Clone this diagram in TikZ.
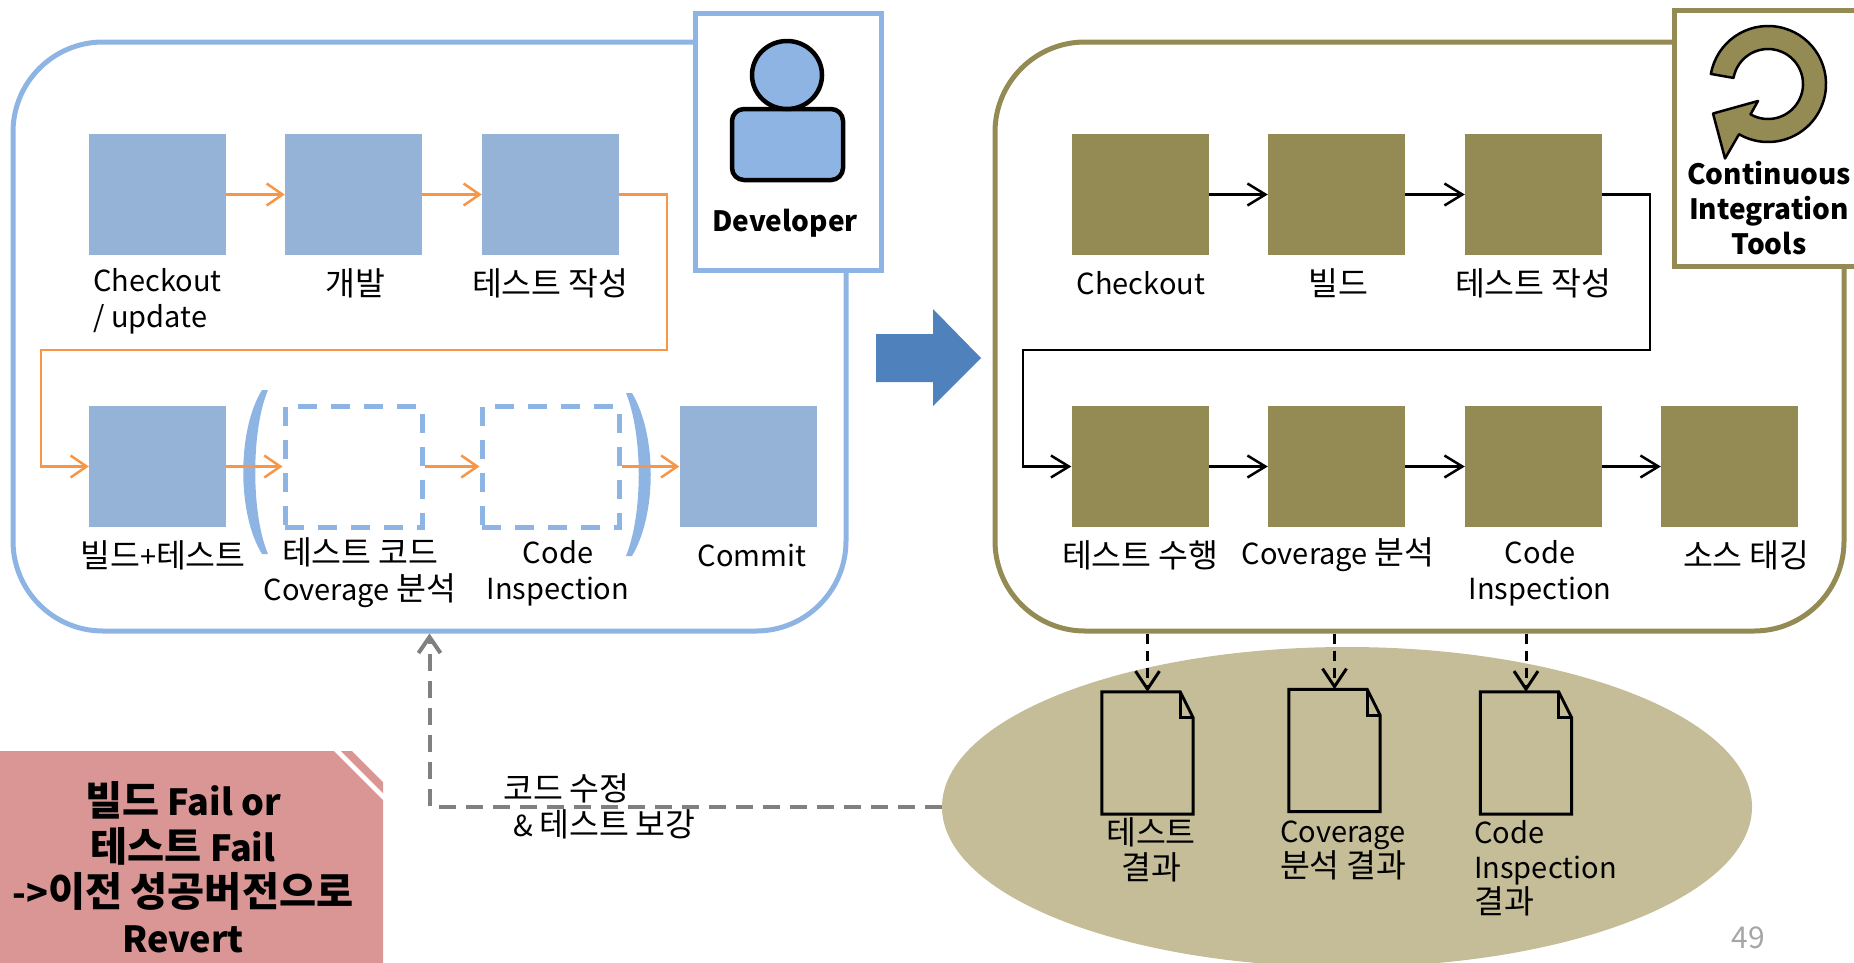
\documentclass[tikz,border=0pt]{standalone}
\usepackage{fontspec}
\setmainfont{Noto Sans CJK KR}
\newfontfamily\krfont[Scale=1.12]{Noto Sans CJK KR}
\newXeTeXintercharclass\krclass
\newcount\kc
\kc="AC00
\loop \XeTeXcharclass\kc=\krclass \advance\kc by 1 \ifnum\kc<"D7A4 \repeat
\XeTeXinterchartoks 0 \krclass = {\begingroup\krfont}
\XeTeXinterchartoks 4095 \krclass = {\begingroup\krfont}
\XeTeXinterchartoks \krclass 0 = {\endgroup}
\XeTeXinterchartoks \krclass 4095 = {\endgroup}
\XeTeXinterchartokenstate=1
\usetikzlibrary{arrows.meta,shapes.geometric,calc}
\definecolor{lblue}{HTML}{8EB4E3}
\definecolor{boxblue}{HTML}{95B3D7}
\definecolor{olive}{HTML}{948A54}
\definecolor{oliveL}{HTML}{C4BD97}
\definecolor{orng}{HTML}{F79646}
\definecolor{bigblue}{HTML}{4F81BD}
\definecolor{pinkc}{HTML}{D99694}
\definecolor{grayd}{HTML}{808080}
\definecolor{pagegray}{HTML}{A6A6A6}
\tikzset{
  sq/.style={minimum width=137pt, minimum height=121pt, inner sep=0pt},
  bbox/.style={sq, fill=boxblue},
  dbox/.style={sq, draw=lblue, line width=5pt, dash pattern=on 19pt off 14pt},
  obox/.style={sq, fill=olive},
  lbl/.style={font=\fontsize{29}{36}\selectfont, align=center, inner sep=0pt},
  dlbl/.style={font=\fontsize{29}{35}\selectfont, align=center, inner sep=0pt},
  oarr/.style={draw=orng, line width=2.5pt, -{Straight Barb[length=16pt,width=22pt]}},
  karr/.style={draw=black, line width=2.5pt, -{Straight Barb[length=18pt,width=22pt]}},
  kdash/.style={draw=black, line width=3pt, dash pattern=on 10pt off 7pt, -{Straight Barb[length=18pt,width=24pt]}},
  garr/.style={draw=grayd, line width=4pt, dash pattern=on 17pt off 10pt, -{Straight Barb[length=16pt,width=22pt]}},
  docn/.style={minimum width=91pt, minimum height=122pt, inner sep=0pt},
  doc/.style={draw=black, line width=3pt, line join=miter},
}
\begin{document}
\begin{tikzpicture}[x=1pt,y=-1pt]
\useasboundingbox (0,0) rectangle (1854,962);

% results ellipse
\node[ellipse, fill=oliveL, minimum width=810pt, minimum height=320pt, inner sep=0pt] (ell) at (1347,807) {};

% big containers
\node[draw=lblue, line width=5pt, rounded corners=90pt, minimum width=833pt, minimum height=589pt, inner sep=0pt] (lb) at (429.5,336.5) {};
\node[draw=olive, line width=5pt, rounded corners=90pt, minimum width=849pt, minimum height=589pt, inner sep=0pt] (rb) at (1419.5,336.5) {};

% developer box
\node[draw=lblue, fill=white, line width=5pt, minimum width=186pt, minimum height=257pt, inner sep=0pt] (dev) at (788,141.5) {};
\draw[line width=4.5pt, fill=lblue, rounded corners=12pt] (732,109) rectangle (843,180);
\draw[line width=4.5pt, fill=lblue] (787,75) ellipse [x radius=35, y radius=34];
\node[font=\bfseries\fontsize{28}{36}\selectfont, inner sep=0pt] (devt) at (785,223) {Developer};

% CI tools box
\node[draw=olive, fill=white, line width=5pt, minimum width=200pt, minimum height=256pt, inner sep=0pt, anchor=north west] (ci) at (1672,8) {};
\coordinate (cc) at (1768,84);
\draw[fill=olive, line width=2.5pt, line join=round]
  ($(cc)+(190:58)$) arc[start angle=190, end angle=480, radius=58]
  -- (1725,158.5) -- (1713,113.5) -- (1758,101)
  -- ($(cc)+(480:35)$) arc[start angle=480, end angle=190, radius=35] -- cycle;
\node[font=\bfseries\fontsize{28}{35}\selectfont, align=center, inner sep=0pt] (cit) at (1769,208) {Continuous\\Integration\\Tools};

% big blue arrow
\fill[bigblue] (876,334) -- (933,334) -- (933,309) -- (981,358) -- (933,406) -- (933,382) -- (876,382) -- cycle;

% left process boxes
\node[bbox] (b1) at (157.5,194.5) {};
\node[bbox] (b2) at (353.5,194.5) {};
\node[bbox] (b3) at (550.5,194.5) {};
\node[bbox] (b4) at (157.5,466.5) {};
\node[dbox] (b5) at (353.5,466.5) {};
\node[dbox] (b6) at (550.5,466.5) {};
\node[bbox] (b7) at (748,466.5) {};

% brackets
\fill[lblue] (262,390) .. controls (237,430) and (237,514) .. (262,554) -- (268,554) .. controls (251,514) and (251,430) .. (268,390) -- cycle;
\fill[lblue] (632,393) .. controls (657,435) and (657,514) .. (632,556) -- (626,556) .. controls (643,514) and (643,435) .. (626,393) -- cycle;

% left arrows
\coordinate (o1) at (667,350);
\coordinate (o2) at (41,350);
\draw[oarr] (b1.east) -- (b2.west);
\draw[oarr] (b2.east) -- (b3.west);
\draw[oarr] (b3.east) -| (o1) -- (o2) |- (b4.west);
\draw[oarr] (b4.east) -- (b5.west);
\draw[oarr] (b5.east) -- (b6.west);
\draw[oarr] (b6.east) -- (b7.west);

% left labels
\node[lbl, align=left] (t1) at (157.5,301.5) {Checkout\\/ update};
\node[lbl] (t2) at (355,283) {개발};
\node[lbl] (t3) at (550,283) {테스트 작성};
\node[lbl] (t4) at (163,555) {빌드+테스트};
\node[lbl] (t5) at (360,573) {테스트 코드\\Coverage 분석};
\node[lbl] (t6) at (558,573) {Code\\Inspection};
\node[lbl] (t7) at (752,555) {Commit};

% right process boxes
\node[obox] (r1) at (1140,194.5) {};
\node[obox] (r2) at (1336.5,194.5) {};
\node[obox] (r3) at (1533.5,194.5) {};
\node[obox] (r4) at (1140,466.5) {};
\node[obox] (r5) at (1336.5,466.5) {};
\node[obox] (r6) at (1533.5,466.5) {};
\node[obox] (r7) at (1729.5,466.5) {};

\coordinate (k1) at (1650,350);
\coordinate (k2) at (1023,350);
\draw[karr] (r1.east) -- (r2.west);
\draw[karr] (r2.east) -- (r3.west);
\draw[karr] (r3.east) -| (k1) -- (k2) |- (r4.west);
\draw[karr] (r4.east) -- (r5.west);
\draw[karr] (r5.east) -- (r6.west);
\draw[karr] (r6.east) -- (r7.west);

\node[lbl] (u1) at (1141,283) {Checkout};
\node[lbl] (u2) at (1338,283) {빌드};
\node[lbl] (u3) at (1533,283) {테스트 작성};
\node[lbl] (u4) at (1140,555) {테스트 수행};
\node[lbl] (u5) at (1338,555) {Coverage 분석};
\node[lbl] (u6) at (1540,573) {Code\\Inspection};
\node[lbl] (u7) at (1746,555) {소스 태깅};

% result documents
\node[docn] (d1) at (1147.5,753) {};
\node[docn] (d2) at (1334.5,750.5) {};
\node[docn] (d3) at (1526,753) {};
\foreach \d in {d1,d2,d3}{
  \draw[doc] (\d.north west) -- ([xshift=-13pt]\d.north east) -- ([yshift=-26pt]\d.north east) -- (\d.south east) -- (\d.south west) -- cycle;
  \draw[doc] ([xshift=-13pt]\d.north east) |- ([yshift=-26pt]\d.north east);
  \draw[kdash] (\d.north |- rb.south) -- (\d.north);
}
\node[dlbl] (e1) at (1151,850) {테스트\\결과};
\node[dlbl] (e2) at (1343,850) {Coverage\\분석 결과};
\node[dlbl, align=left, anchor=west] (e3) at (1474,868) {Code\\Inspection\\결과};

% feedback arrow
\draw[garr] (ell.west) -| (lb.south);
\node[lbl, align=left, anchor=west] (fx) at (503,806) {코드 수정\\\hspace*{10pt}\& 테스트 보강};

% callout
\fill[pinkc] (0,751) -- (334,751) -- (383,800) -- (383,970) -- (0,970) -- cycle;
\fill[pinkc] (341,751) -- (352,751) -- (383,782) -- (383,793) -- cycle;
\node[font=\bfseries\fontsize{36}{45.5}\selectfont, align=center, inner sep=0pt] (rv) at (183,867) {빌드 Fail or\\테스트 Fail\\->이전 성공버전으로\\Revert};

\node[text=pagegray, font=\fontsize{30}{36}\selectfont, inner sep=0pt] (pg) at (1748,938) {49};
\end{tikzpicture}
\end{document}
